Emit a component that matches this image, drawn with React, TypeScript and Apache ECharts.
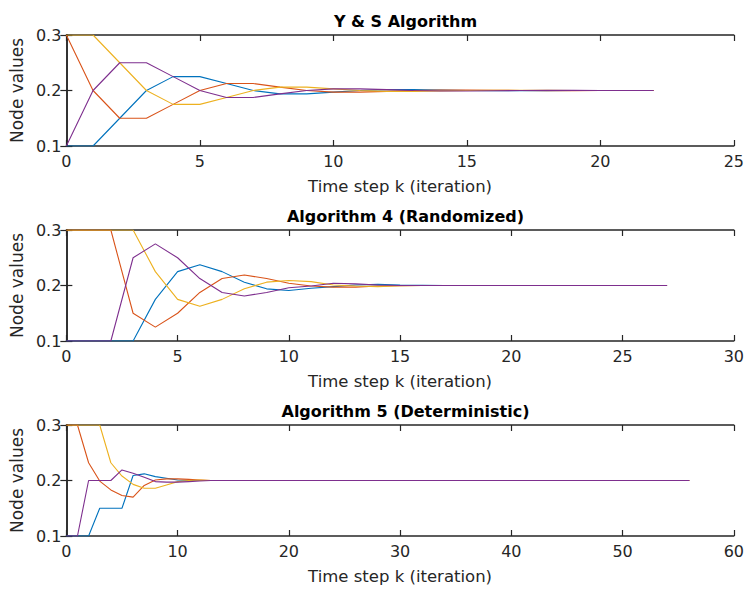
import React, { useEffect, useRef } from "react";
import * as echarts from "echarts";

// ---- Data ----
const titles = ["Y & S Algorithm", "Algorithm 4 (Randomized)", "Algorithm 5 (Deterministic)"];
const xMax = [25, 30, 60];
const xStep = [5, 5, 10];
const yTicks = [0.1, 0.2, 0.3];
const seriesColors = ["#0072BD", "#D95319", "#EDB120", "#7E2F8E"];

const ysK = [0, 1, 2, 3, 4, 5, 6, 7, 8, 9, 10, 11, 12, 13, 14, 15, 16, 17, 18, 19, 20, 21, 22];
const ysBlue = [0.1, 0.1, 0.15, 0.2, 0.225, 0.225, 0.2125, 0.2, 0.194, 0.194, 0.197, 0.2, 0.2016, 0.2016, 0.2008, 0.2, 0.1996, 0.1996, 0.1998, 0.2, 0.2, 0.2, 0.2];
const ysOrange = [0.3, 0.2, 0.15, 0.15, 0.175, 0.2, 0.2125, 0.2125, 0.206, 0.2, 0.197, 0.197, 0.1984, 0.2, 0.2008, 0.2008, 0.2004, 0.2, 0.1998, 0.1998, 0.2, 0.2, 0.2];
const ysYellow = [0.3, 0.3, 0.25, 0.2, 0.175, 0.175, 0.1875, 0.2, 0.206, 0.206, 0.203, 0.2, 0.1984, 0.1984, 0.1992, 0.2, 0.2004, 0.2004, 0.2002, 0.2, 0.2, 0.2, 0.2];
const ysPurple = [0.1, 0.2, 0.25, 0.25, 0.225, 0.2, 0.1875, 0.1875, 0.194, 0.2, 0.203, 0.203, 0.2016, 0.2, 0.1992, 0.1992, 0.1996, 0.2, 0.2002, 0.2002, 0.2, 0.2, 0.2];

const rK = [0, 1, 2, 3, 4, 5, 6, 7, 8, 9, 10, 11, 12, 13, 14, 15, 16, 17, 18, 19, 20, 21, 22, 23, 24, 25, 26, 27];
const rBlue = [0.1, 0.1, 0.1, 0.1, 0.175, 0.225, 0.2375, 0.225, 0.206, 0.194, 0.191, 0.195, 0.198, 0.201, 0.202, 0.201, 0.2005, 0.2, 0.2, 0.2, 0.2, 0.2, 0.2, 0.2, 0.2, 0.2, 0.2, 0.2];
const rOrange = [0.3, 0.3, 0.3, 0.15, 0.125, 0.15, 0.1875, 0.2125, 0.219, 0.2125, 0.204, 0.199, 0.197, 0.197, 0.199, 0.1995, 0.2, 0.2, 0.2, 0.2, 0.2, 0.2, 0.2, 0.2, 0.2, 0.2, 0.2, 0.2];
const rYellow = [0.3, 0.3, 0.3, 0.3, 0.225, 0.175, 0.1625, 0.175, 0.194, 0.206, 0.209, 0.207, 0.201, 0.199, 0.198, 0.1995, 0.2, 0.2, 0.2, 0.2, 0.2, 0.2, 0.2, 0.2, 0.2, 0.2, 0.2, 0.2];
const rPurple = [0.1, 0.1, 0.1, 0.25, 0.275, 0.25, 0.2125, 0.1875, 0.181, 0.1875, 0.196, 0.199, 0.204, 0.203, 0.201, 0.2, 0.2, 0.2, 0.2, 0.2, 0.2, 0.2, 0.2, 0.2, 0.2, 0.2, 0.2, 0.2];

const dK = [0, 1, 2, 3, 4, 5, 6, 7, 8, 9, 10, 11, 12, 13, 14, 15, 16, 56];
const dBlue = [0.1, 0.1, 0.1, 0.15, 0.15, 0.15, 0.209, 0.212, 0.207, 0.204, 0.201, 0.2, 0.2, 0.2, 0.2, 0.2, 0.2, 0.2];
const dOrange = [0.3, 0.3, 0.232, 0.199, 0.183, 0.173, 0.17, 0.191, 0.201, 0.203, 0.203, 0.202, 0.201, 0.2, 0.2, 0.2, 0.2, 0.2];
const dYellow = [0.3, 0.3, 0.3, 0.3, 0.232, 0.208, 0.193, 0.186, 0.186, 0.192, 0.198, 0.2, 0.201, 0.2, 0.2, 0.2, 0.2, 0.2];
const dPurple = [0.1, 0.1, 0.2, 0.2, 0.2, 0.219, 0.213, 0.206, 0.198, 0.197, 0.197, 0.198, 0.199, 0.2, 0.2, 0.2, 0.2, 0.2];

const panels = [
  { k: ysK, values: [ysBlue, ysOrange, ysYellow, ysPurple] },
  { k: rK, values: [rBlue, rOrange, rYellow, rPurple] },
  { k: dK, values: [dBlue, dOrange, dYellow, dPurple] },
];

const FONT = "'DejaVu Sans', 'Liberation Sans', Arial, sans-serif";
const INK = "#262626";

export default function App() {
  const ref = useRef<HTMLDivElement>(null);
  useEffect(() => {
    if (!ref.current) return;
    const chart = echarts.init(ref.current, undefined, { renderer: "svg" });
    const gridTops = [35, 230, 425];
    const gridH = 111;
    const left = 64;
    const width = 673;

    const grids: any[] = [];
    const xAxes: any[] = [];
    const yAxes: any[] = [];
    const series: any[] = [];
    const titleOpts: any[] = [];

    const axisLine = { show: true, lineStyle: { color: INK, width: 1.5 } };
    const axisTick = { show: true, inside: true, length: 6, lineStyle: { color: INK, width: 1.2 } };

    panels.forEach((p, i) => {
      grids.push({ left, top: gridTops[i], width, height: gridH, containLabel: false });
      titleOpts.push({
        text: titles[i],
        left: left + width / 2,
        textAlign: "center",
        top: gridTops[i] - 27,
        textStyle: { fontFamily: FONT, fontSize: 16, fontWeight: "bold", color: "#000" },
      });
      xAxes.push({
        type: "value",
        gridIndex: i,
        position: "bottom",
        min: 0,
        max: xMax[i],
        interval: xStep[i],
        axisLine,
        axisTick,
        splitLine: { show: false },
        axisLabel: { color: INK, fontFamily: FONT, fontSize: 16, margin: 7 },
        name: "Time step k (iteration)",
        nameLocation: "middle",
        nameGap: 32,
        nameTextStyle: { color: INK, fontFamily: FONT, fontSize: 16.5 },
      });
      xAxes.push({
        type: "value",
        gridIndex: i,
        position: "top",
        min: 0,
        max: xMax[i],
        interval: xStep[i],
        axisLine,
        axisTick,
        splitLine: { show: false },
        axisLabel: { show: false },
      });
      yAxes.push({
        type: "value",
        gridIndex: i,
        position: "left",
        min: yTicks[0],
        max: yTicks[yTicks.length - 1],
        interval: 0.1,
        axisLine,
        axisTick,
        splitLine: { show: false },
        axisLabel: {
          color: INK,
          fontFamily: FONT,
          fontSize: 16,
          margin: 5,
          formatter: (v: number) => v.toFixed(1),
        },
        name: "Node values",
        nameLocation: "middle",
        nameGap: 38,
        nameTextStyle: { color: INK, fontFamily: FONT, fontSize: 17 },
      });
      yAxes.push({
        type: "value",
        gridIndex: i,
        position: "right",
        min: yTicks[0],
        max: yTicks[yTicks.length - 1],
        interval: 0.1,
        axisLine,
        axisTick,
        splitLine: { show: false },
        axisLabel: { show: false },
      });
      p.values.forEach((vals, j) => {
        series.push({
          type: "line",
          xAxisIndex: i * 2,
          yAxisIndex: i * 2,
          data: p.k.map((kk, idx) => [kk, vals[idx]]),
          showSymbol: false,
          symbol: "none",
          lineStyle: { color: seriesColors[j], width: 1.1 },
          itemStyle: { color: seriesColors[j] },
          z: 2 + j,
        });
      });
    });

    chart.setOption({
      animation: false,
      backgroundColor: "#ffffff",
      title: titleOpts,
      grid: grids,
      xAxis: xAxes,
      yAxis: yAxes,
      series,
    });
    return () => chart.dispose();
  }, []);
  return (
    <div
      ref={ref}
      style={{ position: "absolute", left: 0, top: 0, width: 747, height: 590, background: "#fff" }}
    />
  );
}
